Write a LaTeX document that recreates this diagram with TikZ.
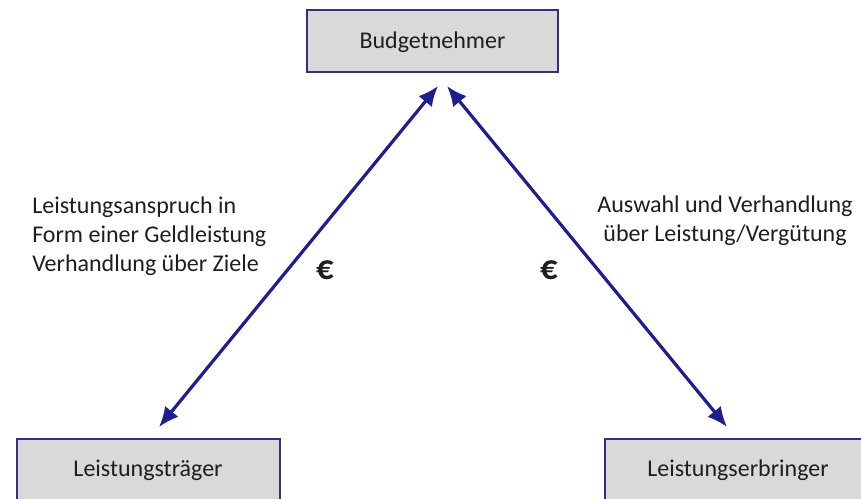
\documentclass[tikz,border=0pt]{standalone}
\usepackage{fontspec}
\setmainfont{Carlito}
\usetikzlibrary{arrows.meta}
\definecolor{navy}{RGB}{30,30,140}
\definecolor{boxborder}{RGB}{50,50,120}
\definecolor{boxfill}{RGB}{217,217,217}
\definecolor{txt}{RGB}{30,30,30}
\begin{document}
\begin{tikzpicture}[x=0.75pt,y=-0.75pt,
  box/.style={draw=boxborder,line width=1.2pt,fill=boxfill},
  lbl/.style={font=\fontsize{18}{21.5}\selectfont,text=txt,inner sep=0pt},
  euro/.style={font=\fontsize{26}{28}\selectfont\bfseries,text=txt,inner sep=0pt},
  dblarrow/.style={draw=navy,line width=2.4pt,{Latex[length=15pt,width=13pt]}-{Latex[length=15pt,width=13pt]}}]
\useasboundingbox (0,0) rectangle (861,499);
\path[box] (307,10) rectangle (558,72);
\node[lbl] (bn) at (432.5,42) {Budgetnehmer};
\path[box] (17,439) rectangle (280,503);
\node[lbl] (lt) at (148,470) {Leistungsträger};
\path[box] (605,439) rectangle (872,503);
\node[lbl] (le) at (738,470) {Leistungserbringer};
\coordinate (tl) at (438,86);
\coordinate (tr) at (447,86);
\coordinate (bl) at (159,427);
\coordinate (br) at (727,427);
\draw[dblarrow] (bl) -- (tl);
\draw[dblarrow] (br) -- (tr);
\node[lbl,align=left,anchor=north west] (ltext) at (32,197) {Leistungsanspruch in\\Form einer Geldleistung\\Verhandlung über Ziele};
\node[lbl,align=center,anchor=north] (rtext) at (725,196) {Auswahl und Verhandlung\\über Leistung/Vergütung};
\node[euro] (e1) at (325,270) {€};
\node[euro] (e2) at (549,270) {€};
\end{tikzpicture}
\end{document}
